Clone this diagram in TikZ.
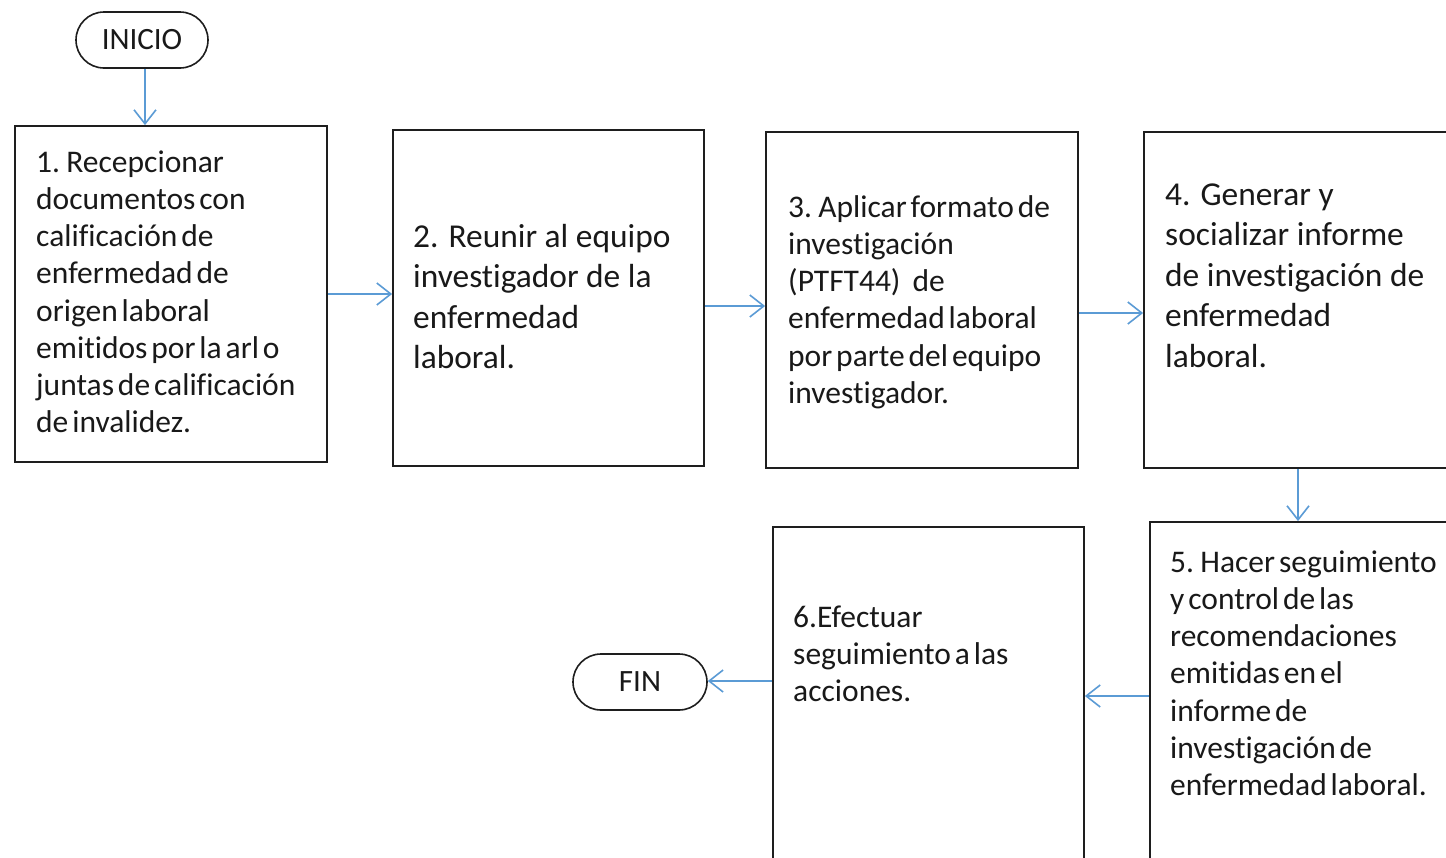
\documentclass[tikz,border=0pt]{standalone}
\usepackage{fontspec}
\setmainfont{Carlito}[Ligatures={NoCommon,NoRequired,NoContextual,NoRare},Contextuals=NoAlternate]
\newfontfamily\tightcal{Carlito}[WordSpace=0.55,Ligatures={NoCommon,NoRequired,NoContextual,NoRare},Contextuals=NoAlternate]
\usetikzlibrary{arrows.meta}
\definecolor{arrblue}{RGB}{91,155,213}
\definecolor{boxline}{RGB}{30,30,30}
\definecolor{txt}{RGB}{25,25,25}
\begin{document}
\begin{tikzpicture}[x=1pt,y=-1pt,
  procbox/.style={draw=boxline, line width=1.8pt, inner sep=0pt, rectangle},
  term/.style={draw=boxline, line width=1.6pt, rounded corners=28pt, inner sep=0pt,
    minimum height=56pt, text=txt, font=\fontsize{31}{37}\selectfont},
  txtA/.style={anchor=north west, inner sep=0pt, align=left, text=txt,
    font=\tightcal\fontsize{31.5}{37.2}\selectfont},
  txtB/.style={anchor=north west, inner sep=0pt, align=left, text=txt,
    font=\fontsize{33.4}{40.5}\selectfont},
  arr/.style={draw=arrblue, line width=1.6pt, -{Straight Barb[length=14pt,width=22pt]}}]
\path[use as bounding box, fill=white] (0,0) rectangle (1446,857);

% terminators
\node[term, minimum width=132pt] (ini) at (142,40) {INICIO};
\node[term, minimum width=134pt] (fin) at (640,682) {FIN};

% process boxes
\node[procbox, minimum width=312pt, minimum height=336pt] (b1) at (171,294) {};
\node[procbox, minimum width=311pt, minimum height=336pt] (b2) at (548.5,298) {};
\node[procbox, minimum width=312pt, minimum height=336pt] (b3) at (922,300) {};
\node[procbox, minimum width=316pt, minimum height=336pt] (b4) at (1302,300) {};
\node[procbox, minimum width=310pt, minimum height=348pt] (b5) at (1305,696) {};
\node[procbox, minimum width=311pt, minimum height=343pt] (b6) at (928.5,698.5) {};

% texts
\node[txtA] (t1) at (36,146) {\strut 1. Recepcionar\\documentos con\\calificación de\\enfermedad de\\origen laboral\\emitidos por la arl o\\juntas de calificación\\de invalidez.};
\node[txtB] (t2) at (413,218.6) {\strut 2. Reunir al equipo\\investigador de la\\enfermedad\\laboral.};
\node[txtA] (t3) at (788,191) {\strut 3. Aplicar formato de\\investigación\\(PTFT44)\hspace{12pt}de\\enfermedad laboral\\por parte del equipo\\investigador.};
\node[txtB] (t4) at (1165,176.6) {\strut 4. Generar y\\socializar informe\\de investigación de\\enfermedad\\laboral.};
\node[txtA] (t5) at (1170,546) {\strut 5. Hacer seguimiento\\y control de las\\recomendaciones\\emitidas en el\\informe de\\investigación de\\enfermedad laboral.};
\node[txtA] (t6) at (793,601) {\strut 6.Efectuar\\seguimiento a las\\acciones.};

% connectors
\draw[arr] ([xshift=3pt]ini.south) -- ([xshift=3pt]ini.south |- b1.north);
\draw[arr] (b1.east) -- (b1.east -| b2.west);
\draw[arr] ([yshift=-8pt]b2.east) -- ([yshift=-8pt]b2.east -| b3.west);
\draw[arr] ([yshift=-13pt]b3.east) -- ([yshift=-13pt]b3.east -| b4.west);
\draw[arr] ([xshift=-4pt]b4.south) -- ([xshift=-4pt]b4.south |- b5.north);
\draw[arr] (b5.west) -- (b5.west -| b6.east);
\draw[arr] ([yshift=17.5pt]b6.west) -- ([yshift=17.5pt]b6.west -| fin.east);
\end{tikzpicture}
\end{document}
